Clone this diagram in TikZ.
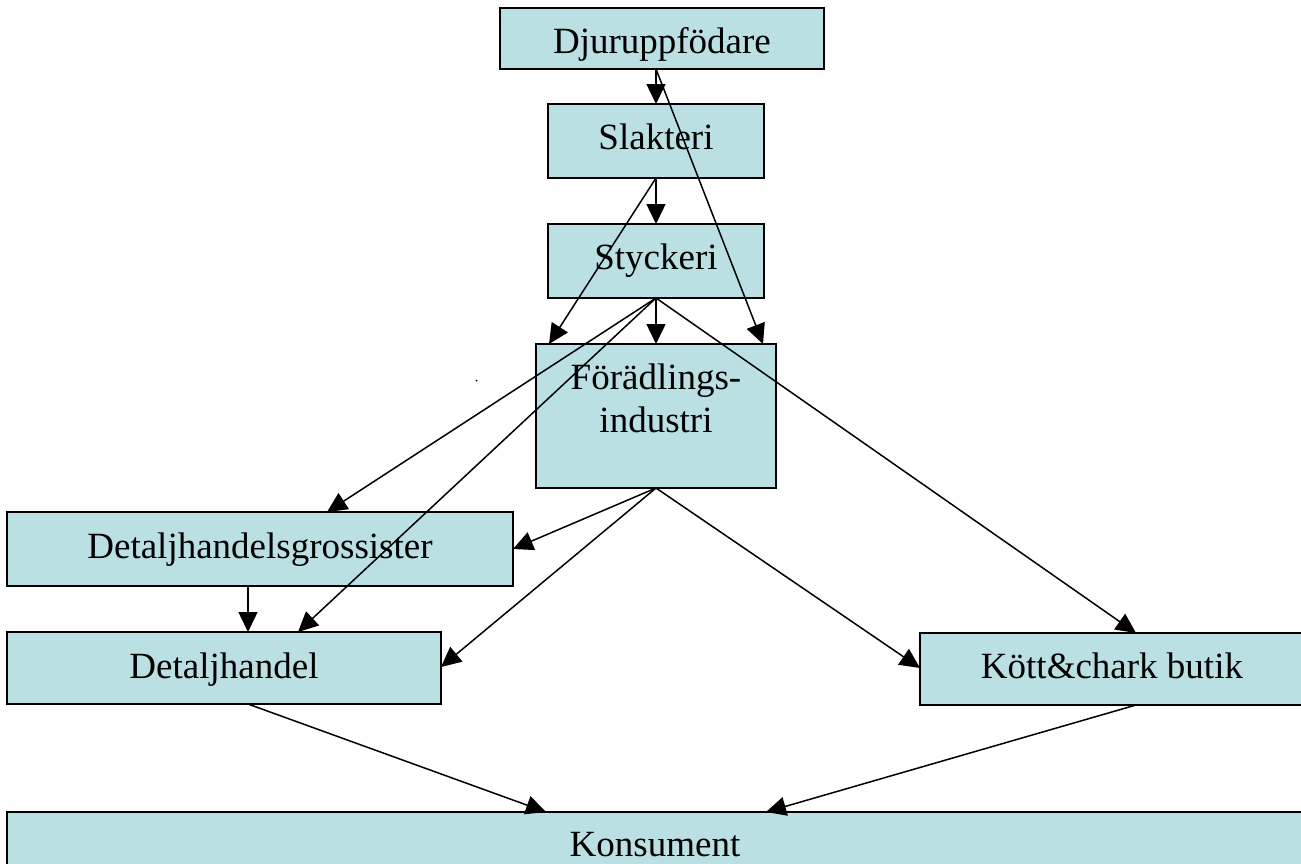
\documentclass[tikz,border=0pt]{standalone}
\usepackage{fontspec}
\setmainfont{Liberation Serif}
\usetikzlibrary{arrows.meta,calc}
\definecolor{boxfill}{HTML}{BAE0E3}
\begin{document}
\begin{tikzpicture}[x=1pt,y=-1pt,
  box/.style={draw=black,fill=boxfill,line width=1.5pt,inner sep=0pt,outer sep=0pt},
  lbl/.style={inner sep=0pt,anchor=base,font=\fontsize{37}{43}\selectfont},
  flow/.style={line width=1.5pt,-{Triangle[length=20pt,width=19pt]}}]
\useasboundingbox (0,0) rectangle (1301,863);
\fill[white] (0,0) rectangle (1301,863);

% boxes of the supply chain
\node[box,minimum width=324pt,minimum height=61pt]  (djur)   at (662,38.5) {};
\node[box,minimum width=216pt,minimum height=74pt]  (slak)   at (656,141) {};
\node[box,minimum width=216pt,minimum height=74pt]  (styck)  at (656,261) {};
\node[box,minimum width=240pt,minimum height=144pt] (foer)   at (656,416) {};
\node[box,minimum width=506pt,minimum height=74pt]  (gross)  at (260,549) {};
\node[box,minimum width=434pt,minimum height=72pt]  (detalj) at (224,668) {};
\node[box,minimum width=384pt,minimum height=72pt]  (kott)   at (1112,669) {};
\node[box,minimum width=1296pt,minimum height=64pt] (kons)   at (655,844) {};

% labels, set from the top edge of each box
\node[lbl] (tdjur)   at ($(djur.north)+(0,45)$)   {Djuruppfödare};
\node[lbl] (tslak)   at ($(slak.north)+(0,45.5)$) {Slakteri};
\node[lbl] (tstyck)  at ($(styck.north)+(0,45)$)  {Styckeri};
\node[lbl] (tfoer1)  at ($(foer.north)+(0,45.5)$) {Förädlings-};
\node[lbl] (tfoer2)  at ($(foer.north)+(0,88.5)$) {industri};
\node[lbl] (tgross)  at ($(gross.north)+(0,46)$)  {Detaljhandelsgrossister};
\node[lbl] (tdetalj) at ($(detalj.north)+(0,46)$) {Detaljhandel};
\node[lbl] (tkott)   at ($(kott.north)+(0,45.5)$) {Kött\&chark butik};
\node[lbl] (tkons)   at ($(kons.north)+(0,44)$)   {Konsument};

% small stray dot
\fill (476.5,380.5) circle (1pt);

% flows
\coordinate (djout) at (djur.south -| slak.north);
\draw[flow] (djout) -- (slak.north);
\draw[flow] (djout) -- ($(foer.north)+(107,0)$);
\draw[flow] (slak.south) -- (styck.north);
\draw[flow] (slak.south) -- ($(foer.north)+(-107,0)$);
\draw[flow] (styck.south) -- (foer.north);
\draw[flow] (styck.south) -- (gross.north -| 327,0);
\draw[flow] (styck.south) -- (detalj.north -| 298,0);
\draw[flow] (styck.south) -- (kott.north -| 1136,0);
\draw[flow] (foer.south) -- (gross.east);
\draw[flow] (foer.south) -- ($(detalj.east)+(0,-1)$);
\draw[flow] (foer.south) -- ($(kott.west)+(0,-1)$);
\draw[flow] (gross.south -| 248,0) -- (detalj.north -| 248,0);
\draw[flow] (detalj.south -| 248,0) -- (kons.north -| 546,0);
\draw[flow] (kott.south -| 1136,0) -- (kons.north -| 766,0);
\end{tikzpicture}
\end{document}
